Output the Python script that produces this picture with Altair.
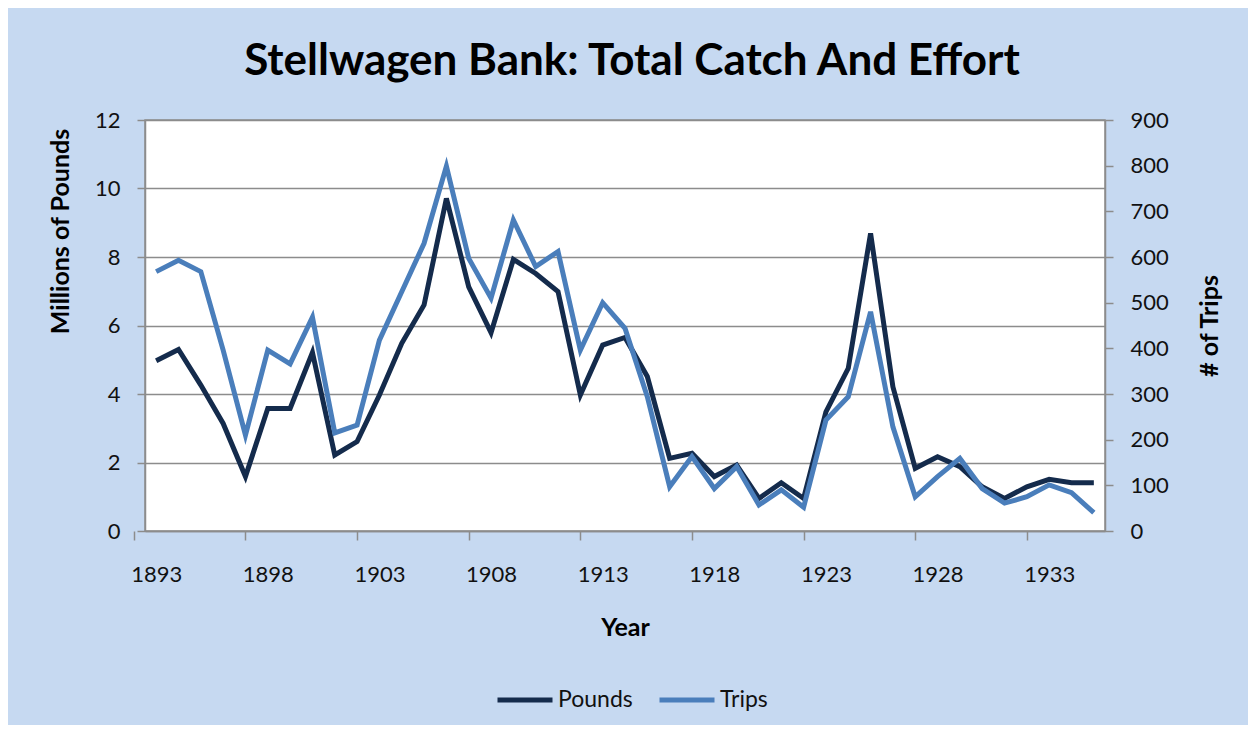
import altair as alt
import pandas as pd

years = list(range(1893, 1936))
pounds = [4.97, 5.30, 4.26, 3.14, 1.59, 3.58, 3.58, 5.21, 2.22, 2.61,
          3.97, 5.48, 6.60, 9.71, 7.13, 5.79, 7.93, 7.52, 6.99, 3.97,
          5.43, 5.65, 4.51, 2.12, 2.27, 1.59, 1.93, 0.95, 1.41, 0.95,
          3.48, 4.75, 8.69, 4.21, 1.83, 2.17, 1.88, 1.29, 0.95, 1.29,
          1.51, 1.41, 1.41]
trips = [568, 593, 568, 396, 210, 396, 366, 468, 215, 232,
         418, 524, 630, 799, 597, 510, 681, 579, 612, 396,
         500, 444, 294, 97, 163, 93, 141, 57, 90, 52,
         243, 294, 480, 228, 75, 119, 159, 93, 61, 75,
         101, 84, 40]
year_ticks = [1893, 1898, 1903, 1908, 1913, 1918, 1923, 1928, 1933]
left_ticks = [0, 2, 4, 6, 8, 10, 12]
right_ticks = [0, 100, 200, 300, 400, 500, 600, 700, 800, 900]
series = ["Pounds", "Trips"]
colors = ["#142B4C", "#4A7EBB"]

df = pd.DataFrame({"Year": years, "Pounds": pounds, "Trips": trips})

FONT = "Lato"
W, H = 960, 411
cat = W / 43.0
GRAY = "#8C8C8C"
TFS = 25

xenc = alt.X(
    "Year:Q",
    scale=alt.Scale(domain=[1892.5, 1935.5], nice=False, zero=False),
    axis=alt.Axis(
        values=year_ticks, format="d", title="Year",
        tickOffset=-cat, labelOffset=cat,
        tickSize=9, tickColor=GRAY, tickWidth=1.5,
        domainColor=GRAY, domainWidth=1.5,
        labelFontSize=22, labelFont=FONT, labelColor="#111",
        labelPadding=24, grid=False,
        titleFontSize=TFS, titleFont=FONT, titleFontWeight="bold",
        titleColor="#000", titleY=96, titleBaseline="middle",
    ),
)

color = alt.Color(
    "s:N",
    scale=alt.Scale(domain=series, range=colors),
    legend=alt.Legend(
        orient="none", legendX=350, legendY=550, direction="horizontal",
        title=None, symbolType="stroke", symbolSize=3025, symbolStrokeWidth=5,
        labelFontSize=23, labelFont=FONT, labelColor="#111",
        columnPadding=16, labelOffset=3,
    ),
)

pounds_line = alt.Chart(df).transform_calculate(s="'Pounds'").mark_line(
    strokeWidth=5
).encode(
    x=xenc,
    y=alt.Y(
        "Pounds:Q",
        scale=alt.Scale(domain=[0, 12], nice=False),
        axis=alt.Axis(
            values=left_ticks, title="Millions of Pounds",
            tickSize=8, tickColor=GRAY, tickWidth=1.5,
            domainColor=GRAY, domainWidth=1.5,
            gridColor=GRAY, gridWidth=1.5, grid=True,
            labelFontSize=22, labelFont=FONT, labelColor="#111",
            labelPadding=17,
            titleFontSize=TFS, titleFont=FONT, titleFontWeight="bold",
            titleColor="#000", titleX=-85, titleY=111, titleAngle=270,
            titleBaseline="middle", titleAlign="center",
        ),
    ),
    color=color,
)

trips_line = alt.Chart(df).transform_calculate(s="'Trips'").mark_line(
    strokeWidth=5
).encode(
    x=xenc,
    y=alt.Y(
        "Trips:Q",
        scale=alt.Scale(domain=[0, 900], nice=False),
        axis=alt.Axis(
            orient="right", values=right_ticks, title="# of Trips",
            tickSize=8, tickColor=GRAY, tickWidth=1.5,
            domainColor=GRAY, domainWidth=1.5, grid=False,
            labelFontSize=22, labelFont=FONT, labelColor="#111",
            labelPadding=17,
            titleFontSize=TFS, titleFont=FONT, titleFontWeight="bold",
            titleColor="#000", titleX=104, titleY=H / 2, titleAngle=270,
            titleBaseline="middle", titleAlign="center",
        ),
    ),
    color=color,
)

chart = alt.layer(pounds_line, trips_line).resolve_scale(
    y="independent"
).properties(
    width=W, height=H,
    autosize=alt.AutoSizeParams(type="none"),
    padding={"left": 137, "top": 112, "right": 143, "bottom": 194},
    background="#C6D9F1",
    title=alt.TitleParams(
        "Stellwagen Bank: Total Catch And Effort",
        fontSize=44, font=FONT, fontWeight="bold", color="#000",
        anchor="middle", offset=25, dx=7,
    ),
).configure_view(
    fill="white", stroke=GRAY, strokeWidth=1.5
)

chart.save("out.html", embed_options={"renderer": "svg", "actions": False})
